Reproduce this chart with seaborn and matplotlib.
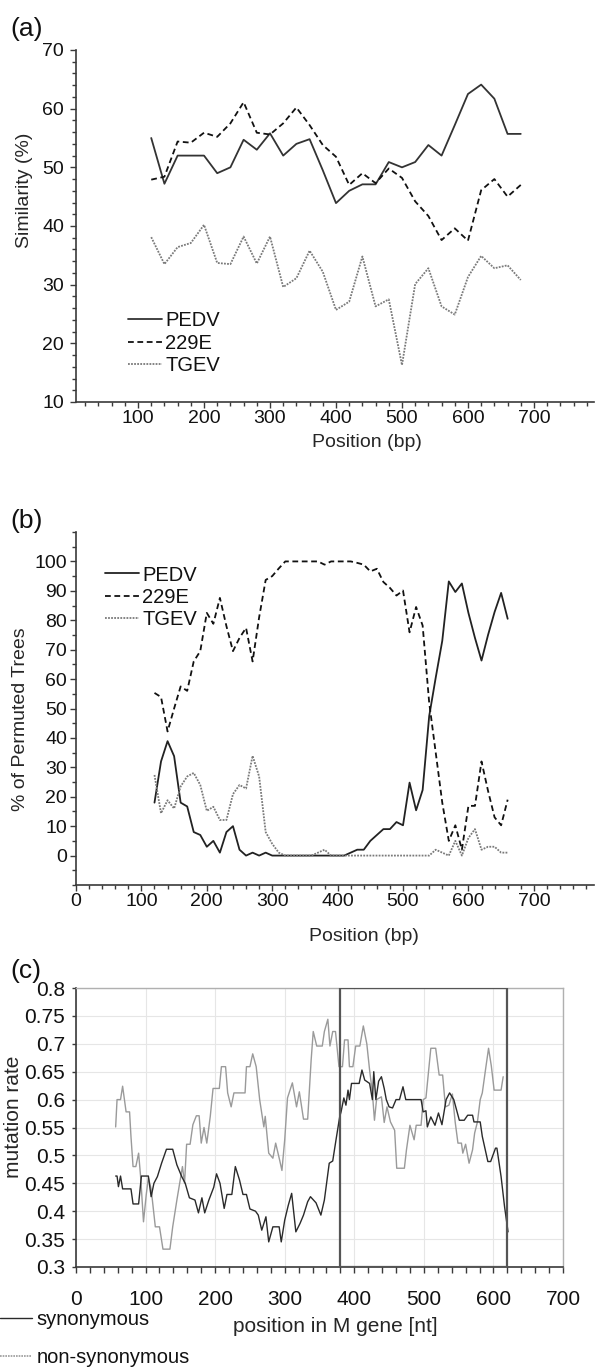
import matplotlib
matplotlib.use("Agg")
import matplotlib.pyplot as plt
import seaborn as sns
from matplotlib.lines import Line2D
from matplotlib.ticker import MultipleLocator, FuncFormatter

# ---- (a) similarity plot ----
pos_a = list(range(120, 681, 20))
sim_pedv = [55, 47.2, 52, 52, 52, 49, 50, 54.7, 53, 55.8, 52, 54, 54.8, 49.5, 43.9,
            46, 47.1, 47.1, 50.9, 50, 50.9, 53.8, 52, 57.2, 62.5, 64.1, 61.7, 55.7, 55.7]
sim_229e = [47.9, 48.4, 54.4, 54.2, 55.9, 55.2, 57.5, 61.1, 55.9, 55.6, 57.5, 60.2, 57.2, 53.8, 51.8,
            47, 49, 47.3, 49.8, 48.2, 44.2, 41.7, 37.6, 39.6, 37.5, 46.1, 48, 45, 47]
sim_tgev = [38.1, 33.5, 36.4, 37.1, 40.2, 33.7, 33.5, 38.2, 33.6, 38.2, 29.6, 31.1, 35.8, 32.2, 25.7,
            27.1, 34.8, 26.3, 27.5, 16.3, 30.1, 32.8, 26.3, 24.9, 31.3, 34.9, 32.8, 33.3, 30.8]

# ---- (b) bootscan ----
pos_b = list(range(120, 661, 10))
boot_pedv = [18, 32, 38.9, 33.8, 18, 16.7, 8, 7, 3, 5,
             1, 8, 10, 2, 0, 1, 0, 1, 0, 0,
             0, 0, 0, 0, 0, 0, 0, 0, 0, 0,
             1, 2, 2, 5, 7, 9, 9, 11.4, 10.3, 24.8,
             15.4, 22.3, 47.4, 60.5, 73, 93.2, 89.6, 92.5, 82.5, 74,
             66.3, 75, 82.8, 89.3, 80.5]
boot_229e = [55.3, 53.9, 42.2, 50, 57.5, 56, 66, 69.5, 82.5, 78.8,
             87.6, 78, 69.5, 74, 77.4, 66, 81, 93.7, 95, 97.6,
             100, 100, 100, 100, 100, 100, 98.9, 100, 100, 100,
             100, 99.5, 98.9, 96.6, 97.5, 93, 91, 88.4, 90.1, 75.9,
             84.5, 78.2, 52, 35, 18, 5, 10.3, 2, 16.9, 16.9,
             32, 22, 13, 10.3, 19]
boot_tgev = [27.4, 14.4, 18.8, 16, 23.5, 26.9, 28.1, 24, 15.2, 16.6,
             12.1, 12.1, 20.9, 24, 22.8, 33.9, 26.9, 8, 4, 1,
             0, 0, 0, 0, 0, 1, 2, 0, 0, 0,
             0, 0, 0, 0, 0, 0, 0, 0, 0, 0,
             0, 0, 0, 2, 1, 0, 5, 0, 6, 9,
             2, 3, 3, 1, 1]

# ---- (c) sliding window mutation rate ----
syn_x = [57, 59, 61, 64, 67, 79, 82, 90, 94, 104, 108, 112, 117, 123, 130, 139, 145, 152, 157, 163,
         171, 176, 181, 185, 191, 198, 202, 207, 213, 217, 224, 229, 235, 240, 245, 250, 258, 262, 267, 273,
         277, 283, 292, 295, 300, 305, 310, 316, 322, 327, 333, 337, 345, 352, 357, 364, 369, 374, 379, 381,
         385, 388, 391, 393, 396, 407, 411, 415, 422, 426, 428, 431, 435, 439, 443, 446, 450, 455, 460, 465,
         470, 474, 496, 499, 503, 505, 510, 516, 521, 526, 532, 537, 543, 551, 558, 563, 570, 572, 581, 584,
         592, 596, 603, 605, 611, 616, 621]
syn_y = [0.463, 0.463, 0.444, 0.463, 0.44, 0.44, 0.413, 0.413, 0.463, 0.463, 0.426, 0.45, 0.462, 0.486, 0.511,
         0.511, 0.483, 0.462, 0.45, 0.424, 0.42, 0.397, 0.424, 0.397, 0.42, 0.443, 0.467, 0.45, 0.405, 0.43,
         0.43, 0.48, 0.456, 0.43, 0.43, 0.404, 0.4, 0.393, 0.366, 0.39, 0.345, 0.372, 0.372, 0.345, 0.384,
         0.41, 0.432, 0.363, 0.378, 0.393, 0.417, 0.426, 0.415, 0.393, 0.42, 0.486, 0.49, 0.53, 0.569, 0.578,
         0.603, 0.59, 0.617, 0.6, 0.629, 0.629, 0.653, 0.635, 0.629, 0.6, 0.65, 0.6, 0.633, 0.641, 0.62,
         0.6, 0.587, 0.585, 0.6, 0.6, 0.623, 0.6, 0.6, 0.578, 0.58, 0.551, 0.569, 0.554, 0.576, 0.555,
         0.6, 0.612, 0.6, 0.563, 0.563, 0.572, 0.572, 0.56, 0.56, 0.534, 0.489, 0.489, 0.513, 0.513, 0.462,
         0.408, 0.363]
nonsyn_x = [57, 59, 64, 67, 72, 77, 79, 82, 86, 90, 93, 97, 101, 104, 108, 114, 120, 125, 131, 135,
            139, 145, 149, 153, 156, 159, 164, 168, 173, 177, 180, 184, 188, 193, 197, 206, 209, 215, 218, 223,
            227, 243, 245, 250, 254, 259, 264, 270, 272, 277, 283, 287, 293, 296, 300, 304, 311, 317, 321, 327,
            333, 338, 341, 346, 348, 354, 357, 362, 365, 369, 373, 378, 383, 386, 391, 393, 398, 402, 408, 413,
            418, 422, 426, 429, 432, 439, 443, 447, 452, 458, 461, 472, 475, 480, 486, 489, 496, 499, 503, 510,
            517, 522, 527, 531, 536, 541, 545, 549, 554, 556, 560, 565, 570, 573, 577, 581, 584, 589, 593, 597,
            601, 611, 614]
nonsyn_y = [0.551, 0.6, 0.6, 0.624, 0.578, 0.578, 0.534, 0.48, 0.48, 0.504, 0.46, 0.381, 0.43, 0.46, 0.44,
            0.372, 0.372, 0.332, 0.332, 0.332, 0.372, 0.42, 0.45, 0.48, 0.45, 0.52, 0.52, 0.555, 0.571, 0.571,
            0.522, 0.55, 0.522, 0.57, 0.62, 0.62, 0.659, 0.659, 0.612, 0.587, 0.612, 0.612, 0.659, 0.659, 0.682,
            0.659, 0.6, 0.551, 0.57, 0.504, 0.495, 0.522, 0.49, 0.473, 0.528, 0.603, 0.63, 0.587, 0.614, 0.565,
            0.565, 0.671, 0.722, 0.696, 0.696, 0.696, 0.722, 0.744, 0.696, 0.722, 0.722, 0.659, 0.659, 0.707, 0.707,
            0.659, 0.659, 0.696, 0.696, 0.732, 0.7, 0.653, 0.612, 0.563, 0.6, 0.605, 0.559, 0.587, 0.56, 0.545,
            0.477, 0.477, 0.51, 0.554, 0.528, 0.554, 0.554, 0.6, 0.603, 0.692, 0.692, 0.644, 0.644, 0.587, 0.59,
            0.61, 0.56, 0.522, 0.522, 0.504, 0.52, 0.486, 0.51, 0.54, 0.56, 0.6, 0.612, 0.657, 0.692, 0.66,
            0.617, 0.617, 0.641]
box_lo, box_hi = 380, 620

assert len(syn_x) == len(syn_y) and len(nonsyn_x) == len(nonsyn_y)

sns.set_style("ticks")
plt.rcParams['font.family'] = ['Liberation Sans', 'DejaVu Sans']
plt.rcParams['text.color'] = '#111111'

AX = '#3a3a3a'
W, H = 596, 1367
fig = plt.figure(figsize=(W / 100, H / 100), dpi=100)


def px_axes(l, t, r, b):
    return fig.add_axes([l / W, 1 - b / H, (r - l) / W, (b - t) / H])


def style_ax(ax, ylab_pad):
    sns.despine(ax=ax)
    for s in ['left', 'bottom']:
        ax.spines[s].set_color(AX)
        ax.spines[s].set_linewidth(1.2)
    ax.tick_params(which='both', direction='out', color=AX, width=1.0, labelsize=14, labelcolor='#111')
    ax.tick_params(which='major', length=4.5)
    ax.tick_params(which='minor', length=3)
    ax.tick_params(axis='x', which='both', pad=1.5)
    ax.tick_params(axis='y', which='both', pad=ylab_pad)


dash = (0, (3.2, 2))
dot = (0, (1, 0.7))
leg_kw = dict(loc='upper left', frameon=False, fontsize=14.5, handlelength=1.7, handletextpad=0.15,
              labelspacing=0.17, borderpad=0, borderaxespad=0)

# ---------------- (a) ----------------
ax_a = px_axes(76, 50, 594, 402)
sns.lineplot(x=pos_a, y=sim_pedv, ax=ax_a, color='#333333', lw=1.3, label='PEDV', estimator=None, errorbar=None)
sns.lineplot(x=pos_a, y=sim_229e, ax=ax_a, color='#111111', lw=1.3, linestyle=dash, label='229E', estimator=None, errorbar=None)
sns.lineplot(x=pos_a, y=sim_tgev, ax=ax_a, color='#7a7a7a', lw=1.3, linestyle=dot, label='TGEV', estimator=None, errorbar=None)
ax_a.set_xlim(6, 791)
ax_a.set_ylim(10, 70)
ax_a.xaxis.set_major_locator(MultipleLocator(100))
ax_a.xaxis.set_minor_locator(MultipleLocator(20))
ax_a.yaxis.set_major_locator(MultipleLocator(10))
ax_a.yaxis.set_minor_locator(MultipleLocator(2))
style_ax(ax_a, 4)
ax_a.set_xlabel("Position (bp)", fontsize=14)
ax_a.set_ylabel("Similarity (%)", fontsize=14)
ax_a.xaxis.set_label_coords(0.562, -0.09)
ax_a.yaxis.set_label_coords(-0.083, 0.6)
ax_a.legend(bbox_to_anchor=(0.10, 0.258), **leg_kw)
fig.text(10 / W, 1 - 29 / H, "(a)", fontsize=19, va='center', ha='left')

# ---------------- (b) ----------------
ax_b = px_axes(76, 532, 594, 885)
sns.lineplot(x=pos_b, y=boot_pedv, ax=ax_b, color='#222222', lw=1.3, label='PEDV', estimator=None, errorbar=None)
sns.lineplot(x=pos_b, y=boot_229e, ax=ax_b, color='#111111', lw=1.3, linestyle=dash, label='229E', estimator=None, errorbar=None)
sns.lineplot(x=pos_b, y=boot_tgev, ax=ax_b, color='#7a7a7a', lw=1.3, linestyle=dot, label='TGEV', estimator=None, errorbar=None)
ax_b.set_xlim(0, 792)
ax_b.set_ylim(-10, 110)
ax_b.xaxis.set_major_locator(MultipleLocator(100))
ax_b.xaxis.set_minor_locator(MultipleLocator(20))
ax_b.set_yticks(list(range(0, 101, 10)))
ax_b.yaxis.set_minor_locator(MultipleLocator(5))
style_ax(ax_b, 2)
ax_b.set_xlabel("Position (bp)", fontsize=14)
ax_b.set_ylabel("% of Permuted Trees", fontsize=14)
ax_b.xaxis.set_label_coords(0.556, -0.122)
ax_b.yaxis.set_label_coords(-0.09, 0.47)
ax_b.legend(bbox_to_anchor=(0.056, 0.905), **leg_kw)
fig.text(10 / W, 1 - 521 / H, "(b)", fontsize=19, va='center', ha='left')

# ---------------- (c) ----------------
ax_c = px_axes(76, 988, 563, 1267)
ax_c.grid(True, which='major', color='#e6e6e6', lw=0.8)
ax_c.set_axisbelow(True)
sns.lineplot(x=nonsyn_x, y=nonsyn_y, ax=ax_c, color='#9a9a9a', lw=1.0, estimator=None, errorbar=None)
sns.lineplot(x=syn_x, y=syn_y, ax=ax_c, color='#2a2a2a', lw=1.0, estimator=None, errorbar=None)
ax_c.axvspan(box_lo, box_hi, fill=False, edgecolor='#555555', lw=1.6, zorder=3)
ax_c.set_xlim(0, 700)
ax_c.set_ylim(0.3, 0.8)
ax_c.xaxis.set_major_locator(MultipleLocator(100))
ax_c.xaxis.set_minor_locator(MultipleLocator(20))
ax_c.yaxis.set_major_locator(MultipleLocator(0.05))
ax_c.yaxis.set_major_formatter(FuncFormatter(lambda v, p: f"{v:g}"))
for s in ['top', 'right']:
    ax_c.spines[s].set_color('#b0b0b0')
    ax_c.spines[s].set_linewidth(1.0)
for s in ['left', 'bottom']:
    ax_c.spines[s].set_color(AX)
    ax_c.spines[s].set_linewidth(1.2)
ax_c.tick_params(which='both', direction='out', color=AX, width=1.0, labelsize=15, labelcolor='#111')
ax_c.tick_params(axis='x', which='both', length=4.5, pad=12)
ax_c.tick_params(axis='y', which='both', length=3, pad=5)
ax_c.set_xlabel("position in M gene [nt]", fontsize=15)
ax_c.set_ylabel("mutation rate", fontsize=15)
ax_c.xaxis.set_label_coords(0.532, -0.178)
ax_c.yaxis.set_label_coords(-0.108, 0.54)
fig.text(10 / W, 1 - 971 / H, "(c)", fontsize=19, va='center', ha='left')

handles = [Line2D([], [], color='#2a2a2a', lw=1.0),
           Line2D([], [], color='#9a9a9a', lw=1.2, linestyle=(0, (1, 0.6)))]
fig.legend(handles, ["synonymous", "non-synonymous"], loc='upper left',
           bbox_to_anchor=(0.0, 1 - 1310 / H), frameon=False, fontsize=14.5,
           handlelength=1.6, handletextpad=0.2, labelspacing=0.95, borderpad=0, borderaxespad=0)

fig.savefig("out.png", dpi=100)
